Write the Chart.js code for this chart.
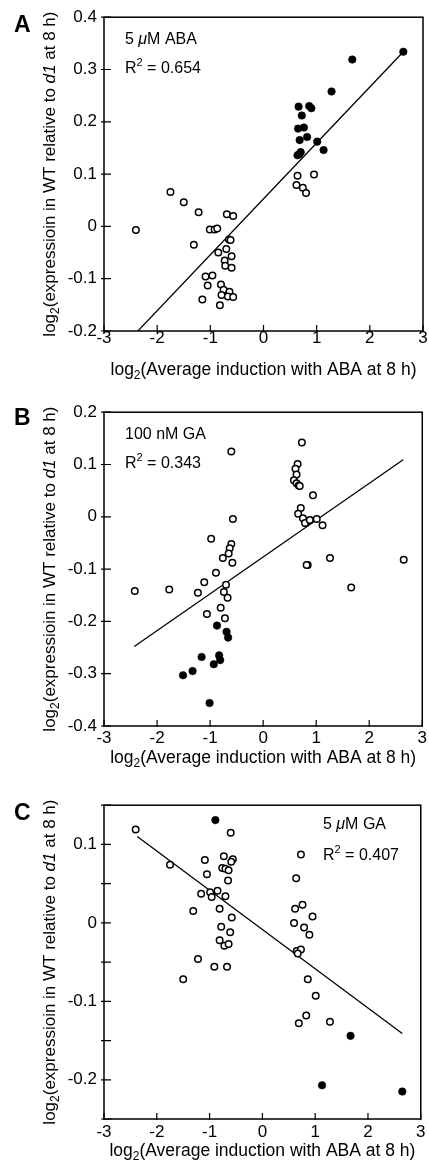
<!DOCTYPE html>
<html lang="en">
<head>
<meta charset="UTF-8">
<title>Induction vs expression, ABA / GA</title>
<script src="https://cdn.jsdelivr.net/npm/chart.js"></script>
<style>
  body { margin: 0; background: #fff; }
  .panel { position: absolute; left: 0; width: 429px; }
</style>
</head>
<body>
<div class="panel" style="top:0;height:390px"><canvas id="chartA"></canvas></div>
<div class="panel" style="top:395px;height:390px"><canvas id="chartB"></canvas></div>
<div class="panel" style="top:788px;height:372px"><canvas id="chartC"></canvas></div>

<script>
// x = log2(average induction with ABA), y = log2(WT / d1)
const xTicks = [-3, -2, -1, 0, 1, 2, 3];

// A: 5 uM ABA
const aOpen = [
  [0.64, 0.097], [0.95, 0.099], [0.62, 0.079], [0.74, 0.074], [0.80, 0.064],
  [-1.75, 0.066], [-1.50, 0.046], [-1.22, 0.027], [-0.69, 0.023], [-0.57, 0.020],
  [-2.40, -0.007], [-1.01, -0.006], [-0.92, -0.006], [-0.87, -0.004],
  [-0.65, -0.025], [-0.62, -0.026], [-1.31, -0.035], [-0.85, -0.050], [-0.70, -0.043],
  [-0.60, -0.057], [-0.73, -0.065], [-0.72, -0.075], [-0.60, -0.079],
  [-1.09, -0.096], [-0.96, -0.094], [-1.05, -0.113], [-0.80, -0.111], [-0.75, -0.121],
  [-0.64, -0.125], [-0.79, -0.131], [-0.67, -0.134], [-0.57, -0.135], [-1.15, -0.140], [-0.82, -0.151]
];
const aFilled = [
  [2.63, 0.334], [1.67, 0.319], [1.28, 0.258], [0.66, 0.229], [0.86, 0.230], [0.90, 0.226],
  [0.72, 0.212], [0.65, 0.187], [0.76, 0.189], [0.68, 0.165], [0.82, 0.171], [1.01, 0.162],
  [1.13, 0.146], [0.64, 0.136], [0.70, 0.142], [0.67, 0.138]
];
const aFit = [[-2.40, -0.204], [2.63, 0.334]];
const aYTicks = { min: -0.2, max: 0.4, step: 0.1 };

// B: 100 nM GA
const bOpen = [
  [0.73, 0.142], [-0.60, 0.125], [0.65, 0.101], [0.61, 0.092], [0.63, 0.081], [0.58, 0.070],
  [0.63, 0.064], [0.67, 0.060], [0.69, 0.059], [0.94, 0.041], [0.71, 0.017], [0.66, 0.006],
  [0.75, -0.003], [0.79, -0.012], [0.88, -0.006], [1.01, -0.004], [1.12, -0.016],
  [-0.57, -0.004], [-0.98, -0.042], [-0.60, -0.052], [-0.63, -0.060], [-0.65, -0.070],
  [-0.76, -0.079], [-0.58, -0.088], [1.26, -0.079], [2.65, -0.082], [0.84, -0.092], [0.82, -0.092],
  [-0.89, -0.107], [-1.11, -0.125], [-0.70, -0.130], [-2.42, -0.142], [-1.77, -0.139],
  [-1.23, -0.145], [-0.74, -0.144], [-0.67, -0.155], [1.66, -0.135], [-0.80, -0.174],
  [-1.06, -0.186], [-0.72, -0.194]
];
const bFilled = [
  [-0.87, -0.208], [-0.69, -0.220], [-0.66, -0.231], [-1.16, -0.268], [-0.83, -0.265],
  [-0.81, -0.274], [-0.93, -0.282], [-1.33, -0.295], [-1.51, -0.303], [-1.01, -0.356]
];
const bFit = [[-2.43, -0.248], [2.64, 0.109]];
const bYTicks = { min: -0.4, max: 0.2, step: 0.1 };

// C: 5 uM GA
const cOpen = [
  [-2.40, 0.119], [-0.60, 0.115], [-1.75, 0.074], [-1.09, 0.080], [-0.73, 0.085], [-0.56, 0.081],
  [-0.59, 0.078], [-0.76, 0.070], [-0.70, 0.069], [-0.64, 0.067], [-1.05, 0.062], [-0.65, 0.054],
  [0.73, 0.087], [0.64, 0.057], [-1.16, 0.037], [-0.99, 0.039], [-0.96, 0.033], [-0.85, 0.041],
  [-0.70, 0.034], [-0.81, 0.018], [-1.31, 0.015], [-0.58, 0.007], [0.62, 0.018], [0.76, 0.023],
  [0.95, 0.008], [0.60, 0.000], [0.79, -0.006], [0.89, -0.015], [-0.78, -0.005], [-0.61, -0.012],
  [-0.81, -0.022], [-0.72, -0.029], [-0.64, -0.027], [0.65, -0.036], [0.73, -0.034], [0.67, -0.039],
  [-1.22, -0.046], [-0.91, -0.056], [-0.67, -0.056], [-1.50, -0.072], [0.86, -0.072],
  [1.01, -0.093], [0.83, -0.118], [0.69, -0.128], [1.28, -0.126]
];
const cFilled = [[-0.89, 0.131], [1.67, -0.144], [1.13, -0.207], [2.65, -0.215]];
const cFit = [[-2.37, 0.110], [2.65, -0.141]];
const cYTicks = { min: -0.25, max: 0.15, step: 0.05 };

const F = '"Liberation Sans", Arial, Helvetica, sans-serif';
const toXY = arr => arr.map(p => ({ x: p[0], y: p[1] }));

// draws a run of text pieces [text, font, dy] starting at x (or centred on x)
function drawRich(ctx, parts, x, y, center) {
  let w = 0;
  parts.forEach(p => { ctx.font = p[1]; w += ctx.measureText(p[0]).width; });
  let cx = center ? x - w / 2 : x;
  parts.forEach(p => {
    ctx.font = p[1];
    ctx.fillText(p[0], cx, y + (p[2] || 0));
    cx += ctx.measureText(p[0]).width;
  });
}

const yTitle = [
  ['log', '17px ' + F], ['2', '12px ' + F, 4], ['(expressioin in WT relative to ', '17px ' + F],
  ['d1', 'italic 17px ' + F], [' at 8 h)', '17px ' + F]
];
const xTitle = [
  ['log', '17.5px ' + F], ['2', '12px ' + F, 4], ['(Average induction with ABA at 8 h)', '17.5px ' + F]
];

const decor = {
  id: 'decor',
  afterDraw(chart, args, o) {
    const ctx = chart.ctx, a = chart.chartArea;
    const xs = chart.scales.x, ys = chart.scales.y;
    ctx.save();
    ctx.strokeStyle = '#000';
    ctx.fillStyle = '#000';
    ctx.textAlign = 'left';
    ctx.textBaseline = 'alphabetic';

    // frame + inward ticks
    ctx.lineWidth = 1.5;
    ctx.strokeRect(a.left, a.top, a.right - a.left, a.bottom - a.top);
    ctx.lineWidth = 1.2;
    ctx.beginPath();
    xs.ticks.forEach(t => {
      const px = xs.getPixelForValue(t.value);
      ctx.moveTo(px, a.bottom - 6); ctx.lineTo(px, a.bottom + 1);
    });
    ys.ticks.forEach(t => {
      const py = ys.getPixelForValue(t.value);
      ctx.moveTo(a.left - 3, py); ctx.lineTo(a.left + 7, py);
    });
    ctx.stroke();

    // panel letter
    ctx.font = 'bold 23px ' + F;
    ctx.fillText(o.letter, 14, o.letterY);

    // treatment + R^2
    o.notes.forEach(n => drawRich(ctx, n.parts, n.x, n.y, false));

    // axis titles
    drawRich(ctx, xTitle, (a.left + a.right) / 2, o.xTitleY, true);
    ctx.translate(55, (a.top + a.bottom) / 2);
    ctx.rotate(-Math.PI / 2);
    drawRich(ctx, yTitle, 0, 0, true);
    ctx.restore();
  }
};

function r2(val) {
  return [['R', '16px ' + F], ['2', '11px ' + F, -7], [' = ' + val, '16px ' + F]];
}

function makeChart(id, open, filled, fit, yt, extra) {
  return new Chart(document.getElementById(id), {
    type: 'scatter',
    data: {
      datasets: [
        { data: toXY(open), pointRadius: 3.25, pointBorderWidth: 1.5,
          pointBackgroundColor: '#fff', pointBorderColor: '#000', order: 0 },
        { data: toXY(filled), pointRadius: 3.8, pointBorderWidth: 0.5,
          pointBackgroundColor: '#000', pointBorderColor: '#000', order: 0 },
        { data: toXY(fit), showLine: true, pointRadius: 0, borderColor: '#000',
          borderWidth: 1.3, order: 1 }
      ]
    },
    options: {
      responsive: true,
      maintainAspectRatio: false,
      animation: false,
      events: [],
      layout: { padding: { top: 13, right: 6, left: 0, bottom: 0 } },
      plugins: {
        legend: { display: false },
        tooltip: { enabled: false },
        decor: extra
      },
      scales: {
        x: {
          type: 'linear', min: xTicks[0], max: xTicks[xTicks.length - 1],
          grid: { display: false, drawTicks: false }, border: { display: false },
          ticks: { stepSize: 1, padding: extra.xPad, color: '#000', font: { family: F, size: 17 },
                   callback: v => String(v) },
          afterFit: s => { s.height = s.chart.height - 331; }
        },
        y: {
          min: yt.min, max: yt.max,
          grid: { display: false, drawTicks: false }, border: { display: false },
          ticks: { stepSize: yt.step, padding: 7, autoSkip: false, color: '#000',
                   font: { family: F, size: 17 },
                   callback: v => {
                     const t = Math.round(v * 100) / 100;
                     if (Math.abs(t * 10 - Math.round(t * 10)) > 1e-6) return '';
                     return String(Math.round(t * 10) / 10);
                   } },
          afterFit: s => { s.width = 104; }
        }
      }
    },
    plugins: [decor]
  });
}

makeChart('chartA', aOpen, aFilled, aFit, aYTicks, {
  letter: 'A', letterY: 32, xTitleY: 375, xPad: -3,
  notes: [
    { x: 125, y: 44, parts: [['5 ', '16px ' + F], ['\u03BC', 'italic 16px ' + F], ['M ABA', '16px ' + F]] },
    { x: 125, y: 73, parts: r2('0.654') }
  ]
});
makeChart('chartB', bOpen, bFilled, bFit, bYTicks, {
  letter: 'B', letterY: 30, xTitleY: 368, xPad: 2,
  notes: [
    { x: 125, y: 44, parts: [['100 nM GA', '16px ' + F]] },
    { x: 125, y: 73, parts: r2('0.343') }
  ]
});
makeChart('chartC', cOpen, cFilled, cFit, cYTicks, {
  letter: 'C', letterY: 32, xTitleY: 368, xPad: 3.5,
  notes: [
    { x: 323, y: 41, parts: [['5 ', '16px ' + F], ['\u03BC', 'italic 16px ' + F], ['M GA', '16px ' + F]] },
    { x: 323, y: 72, parts: r2('0.407') }
  ]
});
</script>
</body>
</html>
